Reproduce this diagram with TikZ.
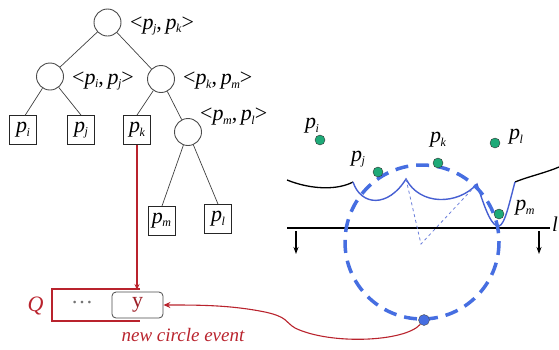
\documentclass[tikz,border=0pt]{standalone}
\usepackage{fontspec}
\setmainfont{Liberation Serif}
\usetikzlibrary{arrows.meta}
\newcommand\pp[1]{\textit{p}\kern-0.5pt{\fontsize{12}{12}\selectfont\raisebox{-3.5pt}{\textit{#1}}}}
\newcommand\pair[2]{<\pp{#1},\,\pp{#2}>}
\definecolor{ered}{RGB}{185,35,45}
\definecolor{cblue}{RGB}{70,110,225}
\definecolor{bblue}{RGB}{70,95,210}
\definecolor{sgreen}{RGB}{30,170,120}
\begin{document}
\begin{tikzpicture}[x=1pt,y=-1pt,
  inner/.style={draw=black!70,line width=0.9pt,circle,minimum size=27pt,inner sep=0pt},
  leaf/.style={draw=black!85,line width=0.8pt,minimum width=27pt,minimum height=29pt,inner sep=0pt,font=\fontsize{22}{22}\selectfont},
  lbl/.style={font=\fontsize{22}{22}\selectfont,inner sep=0pt},
  edge/.style={draw=black!75,line width=0.7pt},
  site/.style={circle,draw=black!80,fill=sgreen,minimum size=10pt,inner sep=0pt},
  sweeparrow/.style={-{Stealth[length=7pt,width=5pt]},line width=1.2pt}]
\useasboundingbox (0,0) rectangle (559,349);
% tree
\node[inner] (r) at (107.5,22.5) {};
\node[inner] (a) at (50,76.5) {};
\node[inner] (b) at (161,79) {};
\node[inner] (c) at (188,132) {};
\node[leaf] (li) at (23,130) {\pp{i}};
\node[leaf] (lj) at (81,130) {\pp{j}};
\node[leaf] (lk) at (137,130) {\pp{k}};
\node[leaf] (lm) at (161.5,220.5) {\pp{m}};
\node[leaf] (ll) at (218,219) {\pp{l}};
\node[lbl,anchor=west] (tr) at (130,26) {\pair{j}{k}};
\node[lbl,anchor=west] (ta) at (72,81) {\pair{i}{j}};
\node[lbl,anchor=west] (tb) at (183,81) {\pair{k}{m}};
\node[lbl,anchor=west] (tc) at (200,117) {\pair{m}{l}};
\coordinate (ei) at (25,115.5);
\coordinate (em) at (162,206);
\draw[edge] (r) -- (a);
\draw[edge] (r) -- (b);
\draw[edge] (a) -- (ei);
\draw[edge] (a) -- (lj.north);
\draw[edge] (b) -- (lk.north);
\draw[edge] (b) -- (c);
\draw[edge] (c) -- (em);
\draw[edge] (c) -- (ll.north);
% queue
\draw[ered,line width=1.2pt] (140,289) -- (52,289) -- (52,321) -- (140,321);
\node[draw=black!70,line width=0.8pt,fill=white,rounded corners=4pt,minimum width=51pt,minimum height=26pt,inner sep=0pt,text=ered!85!black,font=\fontsize{22}{22}\selectfont] (y) at (137.5,305) {y};
\node[lbl,text=black!55] (dots) at (82,303) {\dots};
\node[lbl,text=ered,font=\fontsize{22}{22}\selectfont\itshape] (q) at (35.5,306) {Q};
\node[lbl,text=ered,font=\fontsize{19}{20}\selectfont\itshape] (nce) at (183,335) {new circle event};
\coordinate (qtop) at (137,290);
\draw[ered,line width=1.3pt,-{Stealth[length=6pt,width=5pt]}] (lk.south) -- (qtop);
% right panel
\draw[line width=1.3pt] (287,228) -- (550,228);
\node[lbl,font=\fontsize{21}{21}\selectfont\itshape] (lbl) at (555,224) {l};
\coordinate (a1s) at (296,231); \coordinate (a1e) at (296,254);
\coordinate (a2s) at (539,231); \coordinate (a2e) at (539,254);
\draw[sweeparrow] (a1s) -- (a1e);
\draw[sweeparrow] (a2s) -- (a2e);
% beach line
\draw[line width=1.3pt] (287,180) .. controls (312,190) and (338,190) .. (353,182);
\draw[line width=1.3pt] (515,182) .. controls (530,176) and (545,173) .. (559,167);
\draw[bblue,line width=1.4pt] (353,182) .. controls (361,206) and (388,208) .. (406,179)
  .. controls (420,206) and (458,205) .. (477,184)
  .. controls (486,212) and (492,227) .. (499,226)
  .. controls (505,225) and (510,200) .. (515,182);
% dashed construction
\coordinate (cusp1) at (406,179);
\coordinate (cusp2) at (477,184);
\coordinate (ctr) at (421,244);
\draw[bblue!80,dashed,line width=0.8pt] (cusp1) -- (ctr) -- (cusp2);
\draw[cblue,line width=3.5pt,dash pattern=on 13pt off 8pt] (422,242) circle[radius=77];
% sites
\node[site] (si) at (320,140) {};
\node[site] (sk) at (438,163) {};
\node[site] (sl) at (495,143) {};
\node[site] (sj) at (378,172) {};
\node[site] (sm) at (499,214) {};
\node[lbl] (ti) at (312,126) {\pp{i}};
\node[lbl] (tk) at (438,140) {\pp{k}};
\node[lbl] (tl) at (516,137) {\pp{l}};
\node[lbl] (tj) at (358,159) {\pp{j}};
\node[lbl] (tm) at (525,208) {\pp{m}};
\node[circle,draw=black!70,fill=cblue,minimum size=11pt,inner sep=0pt] (ev) at (424,320) {};
\draw[ered,line width=1.1pt,-{Stealth[length=7pt,width=6pt]}] (ev) .. controls (405,342) and (330,345) .. (295,328)
  .. controls (285,322) and (288,317) .. (265,312)
  .. controls (230,305) and (200,305) .. (y.east);
\end{tikzpicture}
\end{document}
